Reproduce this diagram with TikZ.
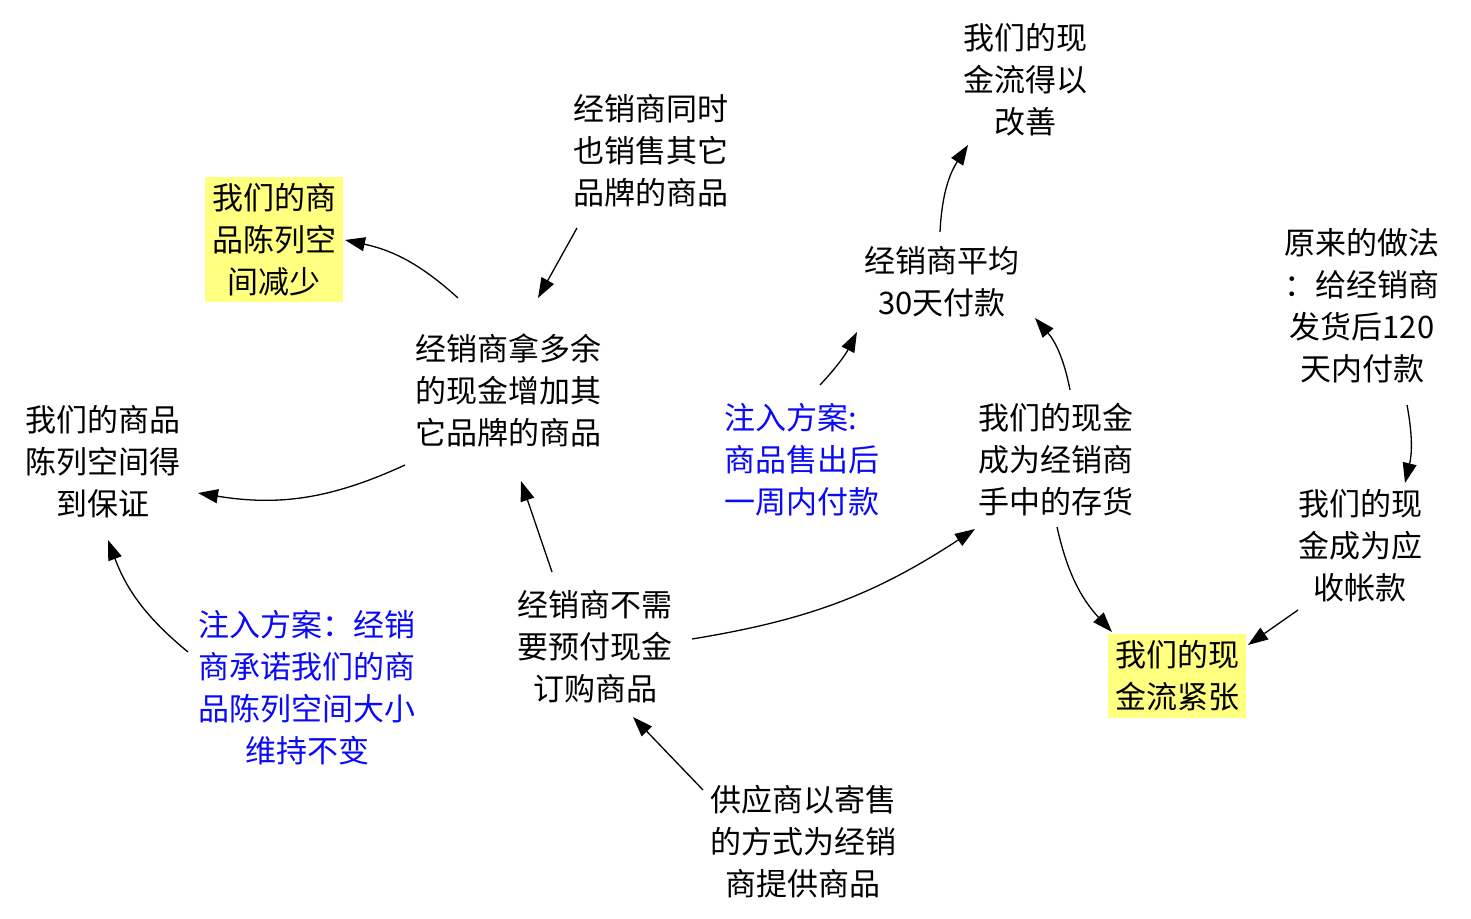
\documentclass[tikz,border=0pt]{standalone}
\usepackage{fontspec}
\newfontfamily\cjk{Noto Sans CJK SC}
\usetikzlibrary{arrows.meta,calc}
\definecolor{hl}{RGB}{255,255,128}
\definecolor{inj}{RGB}{10,10,245}
\tikzset{
  txt/.style={font=\cjk\fontsize{31}{42}\selectfont, align=center, inner sep=0pt, text=black},
  hlbox/.style={txt, fill=hl},
  injtxt/.style={txt, text=inj},
  arr/.style={-{Triangle[length=20pt,width=14pt]}, line width=1.3pt, black},
}
\begin{document}
\begin{tikzpicture}[x=1pt,y=1pt]
\useasboundingbox (0,0) rectangle (1471,918);
\node[txt] (n1) at (1025,838) {我们的现\\金流得以\\改善};
\node[txt] (n2) at (651,767) {经销商同时\\也销售其它\\品牌的商品};
\node[hlbox, minimum width=138pt, minimum height=125pt] (n3) at (274,678) {我们的商\\品陈列空\\间减少};
\node[txt] (n4) at (942,636) {经销商平均\\30天付款};
\node[txt] (n5) at (1362,612) {原来的做法\\：给经销商\\发货后120\\天内付款};
\node[txt] (n6) at (508,528) {经销商拿多余\\的现金增加其\\它品牌的商品};
\node[txt] (n7) at (103,456) {我们的商品\\陈列空间得\\到保证};
\node[injtxt, align=left] (n8) at (802,458) {注入方案:\\商品售出后\\一周内付款};
\node[txt] (n9) at (1056,458) {我们的现金\\成为经销商\\手中的存货};
\node[txt] (n10) at (1360,372) {我们的现\\金成为应\\收帐款};
\node[txt] (n11) at (595,271) {经销商不需\\要预付现金\\订购商品};
\node[injtxt] (n12) at (307,230) {注入方案：经销\\商承诺我们的商\\品陈列空间大小\\维持不变};
\node[hlbox, minimum width=138pt, minimum height=84pt] (n13) at (1177,242) {我们的现\\金流紧张};
\node[txt] (n14) at (803,76) {供应商以寄售\\的方式为经销\\商提供商品};

\draw[arr] ($(n4.center)+(-2,50)$) to[bend left=15] ($(n1.center)+(-57,-65)$);
\draw[arr] ($(n2.center)+(-74,-77)$) -- ($(n6.center)+(30,92)$);
\draw[arr] ($(n6.center)+(-50,92)$) to[bend right=15] ($(n3.center)+(71,0)$);
\draw[arr] ($(n6.center)+(-103,-75)$) to[bend left=17] ($(n7.center)+(95,-31)$);
\draw[arr] ($(n8.center)+(18,75)$) to[bend right=8] ($(n4.center)+(-85,-50)$);
\draw[arr] ($(n9.center)+(14,70)$) to[bend right=15] ($(n4.center)+(93,-36)$);
\draw[arr] ($(n5.center)+(45,-99)$) to[bend left=12] ($(n10.center)+(45,63)$);
\draw[arr] ($(n9.center)+(1,-67)$) to[bend right=15] ($(n13.center)+(-65,44)$);
\draw[arr] ($(n10.center)+(-62,-64)$) -- ($(n13.center)+(71,31)$);
\draw[arr] ($(n11.center)+(-43,75)$) -- ($(n6.center)+(13,-91)$);
\draw[arr] ($(n11.center)+(97,8)$) to[bend right=12] ($(n9.center)+(-81,-69)$);
\draw[arr] ($(n12.center)+(-119,36)$) to[bend left=15] ($(n7.center)+(5,-78)$);
\draw[arr] ($(n14.center)+(-100,52)$) -- ($(n11.center)+(38,-70)$);
\end{tikzpicture}
\end{document}
